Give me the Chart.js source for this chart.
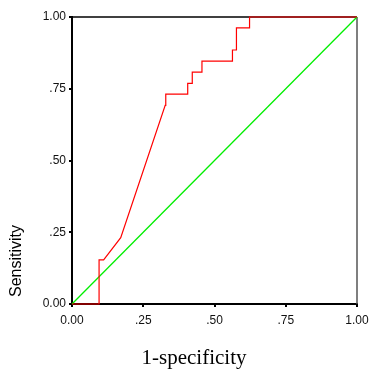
<!DOCTYPE html>
<html>
<head>
<meta charset="utf-8">
<script src="https://cdn.jsdelivr.net/npm/chart.js@4/dist/chart.umd.min.js"></script>
<style>
html,body{margin:0;padding:0;background:#fff;}
#wrap{width:370px;height:370px;position:relative;}
</style>
</head>
<body>
<div id="wrap"><canvas id="c" width="370" height="370"></canvas></div>
<script>
// ROC curve (1-specificity, sensitivity)
const rocX = [0, 0.095, 0.095, 0.111, 0.171, 0.327, 0.329, 0.406, 0.406, 0.422, 0.422, 0.456, 0.456, 0.563, 0.563, 0.577, 0.577, 0.623, 0.623, 1.0];
const rocY = [0, 0, 0.154, 0.154, 0.231, 0.692, 0.731, 0.731, 0.769, 0.769, 0.808, 0.808, 0.846, 0.846, 0.885, 0.885, 0.962, 0.962, 1.0, 1.0];
// Reference diagonal
const refX = [0, 1];
const refY = [0, 1];
// Axis ticks
const tickValues = [0, 0.25, 0.5, 0.75, 1];
const tickLabels = ['0.00', '.25', '.50', '.75', '1.00'];
const xTitle = '1-specificity';
const yTitle = 'Sensitivity';

const toPts = (xs, ys) => xs.map((x, i) => ({x: x, y: ys[i]}));

const framePlugin = {
  id: 'frame',
  beforeDatasetsDraw(chart) {
    const a = chart.chartArea, ctx = chart.ctx;
    ctx.save();
    ctx.lineWidth = 1.5;
    ctx.strokeStyle = '#000';
    ctx.beginPath(); ctx.moveTo(a.left, a.top); ctx.lineTo(a.right, a.top); ctx.stroke();
    ctx.strokeStyle = '#555';
    ctx.beginPath(); ctx.moveTo(a.right, a.top); ctx.lineTo(a.right, a.bottom); ctx.stroke();
    ctx.restore();
  },
  afterDraw(chart) {
    const ctx = chart.ctx;
    ctx.save();
    ctx.fillStyle = '#000';
    ctx.font = '21px "Liberation Serif", "Times New Roman", serif';
    ctx.textAlign = 'center';
    ctx.textBaseline = 'alphabetic';
    ctx.fillText(xTitle, 194, 364);
    ctx.translate(17, 297);
    ctx.rotate(-Math.PI / 2);
    ctx.font = '16px "Liberation Sans", Arial, sans-serif';
    ctx.textAlign = 'left';
    ctx.textBaseline = 'middle';
    ctx.fillText(yTitle, 0, 0);
    ctx.restore();
  }
};

const labelFor = v => {
  const i = tickValues.findIndex(t => Math.abs(t - v) < 1e-9);
  return i >= 0 ? tickLabels[i] : '';
};

const axisCommon = {
  type: 'linear',
  min: 0, max: 1,
  afterBuildTicks: s => { s.ticks = tickValues.map(v => ({value: v})); },
  grid: {display: true, drawOnChartArea: false, drawTicks: true, tickLength: 3, color: '#000', lineWidth: 2},
  border: {display: true, color: '#000', width: 2},
};

new Chart(document.getElementById('c'), {
  type: 'scatter',
  data: {
    datasets: [
      {data: toPts(refX, refY), showLine: true, borderColor: '#00ee00', borderWidth: 1.3, pointRadius: 0, fill: false, clip: 3, order: 2},
      {data: toPts(rocX, rocY), showLine: true, borderColor: '#ff0000', borderWidth: 1.2, pointRadius: 0, fill: false, tension: 0, clip: 3, order: 1}
    ]
  },
  options: {
    responsive: false,
    animation: false,
    devicePixelRatio: 1,
    layout: {padding: {top: 17, right: 13, left: 0, bottom: 0}},
    plugins: {legend: {display: false}, tooltip: {enabled: false}, title: {display: false}},
    scales: {
      x: Object.assign({}, axisCommon, {
        position: 'bottom',
        afterFit: s => { s.height = 66; s.paddingLeft = 0; s.paddingRight = 0; },
        ticks: {autoSkip: false, maxRotation: 0, padding: 6, color: '#111', font: {family: '"Liberation Sans", Arial, sans-serif', size: 12}, callback: v => labelFor(v)}
      }),
      y: Object.assign({}, axisCommon, {
        position: 'left',
        afterFit: s => { s.width = 72; s.paddingTop = 0; s.paddingBottom = 0; },
        ticks: {autoSkip: false, padding: 3, color: '#111', font: {family: '"Liberation Sans", Arial, sans-serif', size: 12}, callback: v => labelFor(v)}
      })
    }
  },
  plugins: [framePlugin]
});
</script>
</body>
</html>
